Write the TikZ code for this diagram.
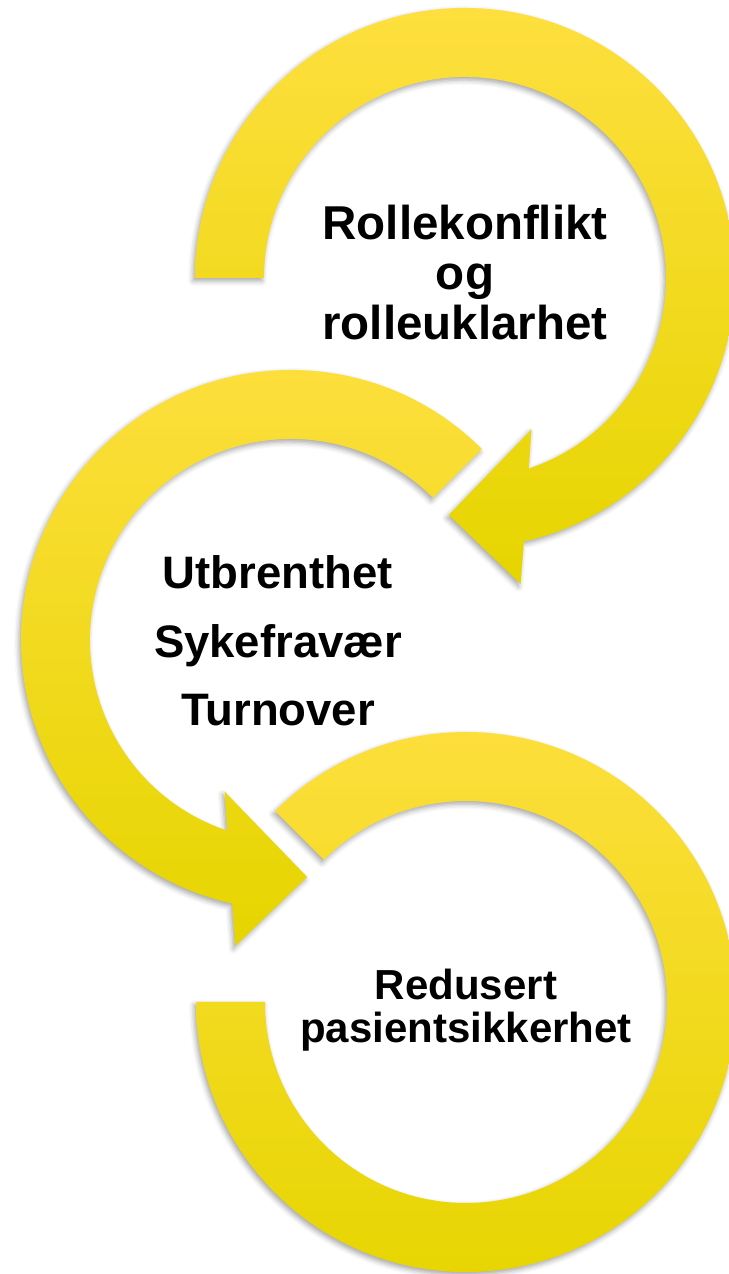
\documentclass[tikz,border=0pt]{standalone}
\usepackage{fontspec}
\setmainfont{Liberation Sans}
\usetikzlibrary{calc,shadows.blur}
\definecolor{ringlight}{RGB}{254,223,62}
\definecolor{ringmid}{RGB}{255,227,0}
\definecolor{ringdark}{RGB}{230,213,0}
\begin{document}
\begin{tikzpicture}[x=0.5pt,y=0.5pt,
  ring/.style={top color=ringlight, middle color=ringmid, bottom color=ringdark,
    blur shadow={shadow xshift=-1pt, shadow yshift=-1.5pt, shadow blur radius=2.5pt, shadow opacity=35}},
  caption/.style={align=center, inner sep=0pt, text=black}]
  \useasboundingbox (0,0) rectangle (728,1274);
  \coordinate (T) at (465,996);
  \coordinate (M) at (291,634);
  \coordinate (B) at (466,272);
  % Bottom ring: no head
  \path[ring] ($(B)+(135:270)$) arc[start angle=135, end angle=-180, radius=270]
    -- ($(B)+(180:201)$) arc[start angle=-180, end angle=135, radius=201] -- cycle;
  % Middle arrow: counterclockwise, head at the bottom
  \path[ring] ($(M)+(45:270)$) arc[start angle=45, end angle=257.4, radius=270]
    -- ($(M)+(259.7:311)$) -- ($(M)+(273.9:237.5)$) -- ($(M)+(246.3:165.4)$)
    -- ($(M)+(251.5:201)$) arc[start angle=251.5, end angle=45, radius=201] -- cycle;
  % Top arrow: clockwise, head at the bottom
  \path[ring] ($(T)+(180:270)$) arc[start angle=180, end angle=-77.4, radius=270]
    -- ($(T)+(-79.7:311)$) -- ($(T)+(-93.9:237.5)$) -- ($(T)+(-66.3:165.4)$)
    -- ($(T)+(-71.5:201)$) arc[start angle=-71.5, end angle=180, radius=201] -- cycle;
  % Texts
  \node[caption, font=\bfseries\fontsize{23.75}{25}\selectfont] (konflikt)
    at ($(T)+(0,5)$) {Rollekonflikt\\og\\rolleuklarhet};
  \node[caption, font=\bfseries\fontsize{22.75}{34.25}\selectfont] (utbrent)
    at ($(M)+(-13,-1)$) {Utbrenthet\\Sykefravær\\Turnover};
  \node[caption, font=\bfseries\fontsize{21}{21.5}\selectfont] (sikkerhet)
    at ($(B)+(0,-8)$) {Redusert\\pasientsikkerhet};
\end{tikzpicture}
\end{document}
